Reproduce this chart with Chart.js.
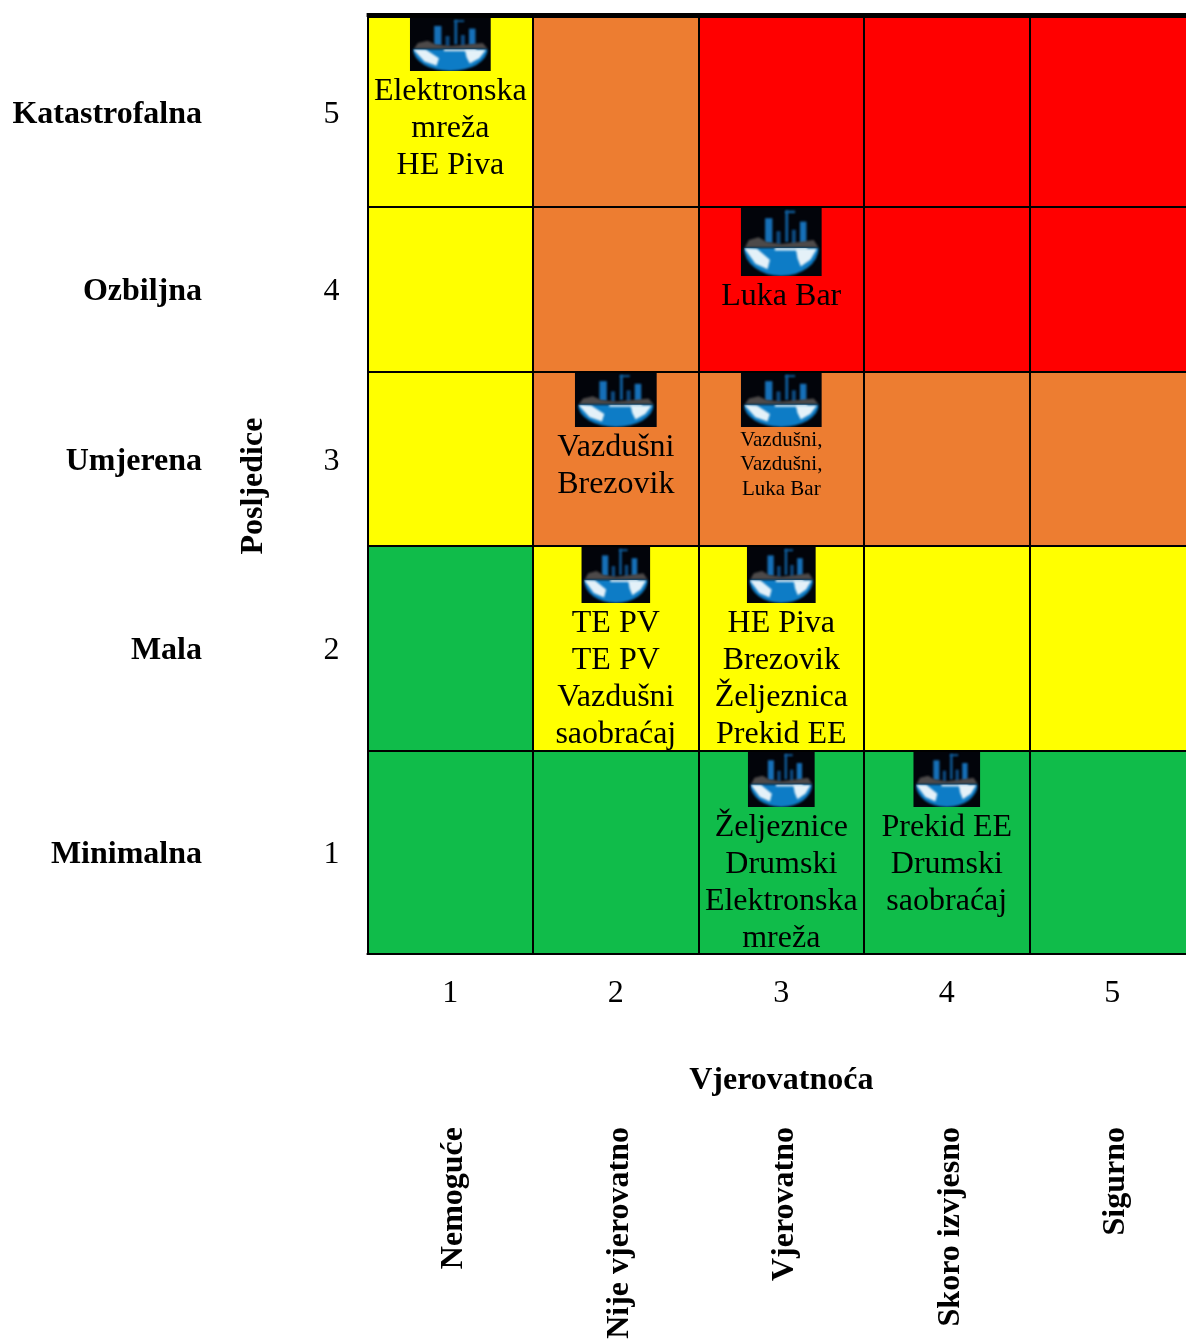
<!DOCTYPE html>
<html>
<head>
<meta charset="utf-8">
<style>
  html, body { margin: 0; padding: 0; background: #fff; overflow: hidden; }
  #wrap { width: 1186px; height: 1340px; overflow: hidden; }
  canvas { display: block; }
</style>
<script src="https://cdn.jsdelivr.net/npm/chart.js@4"></script>
</head>
<body>
<div id="wrap"><canvas id="riskMatrix" width="1195" height="1340"></canvas></div>
<script>
// bottom row first, so index 0 is consequence 1
const consequenceScores = ["1", "2", "3", "4", "5"];
const consequenceNames = ["Minimalna", "Mala", "Umjerena", "Ozbiljna", "Katastrofalna"];
const likelihoodScores = ["1", "2", "3", "4", "5"];
const likelihoodNames = ["Nemoguće", "Nije vjerovatno", "Vjerovatno", "Skoro izvjesno", "Sigurno"];

// 0 green, 1 yellow, 2 orange, 3 red
const riskRow1 = [0, 0, 0, 0, 0];
const riskRow2 = [0, 1, 1, 1, 1];
const riskRow3 = [1, 2, 2, 2, 2];
const riskRow4 = [1, 2, 3, 3, 3];
const riskRow5 = [1, 2, 3, 3, 3];
const riskRows = [riskRow1, riskRow2, riskRow3, riskRow4, riskRow5];

// [likelihood, consequence, lines]
const cellEntries = [
  [1, 5, ["Elektronska", "mreža", "HE Piva"]],
  [3, 4, ["Luka Bar"]],
  [2, 3, ["Vazdušni", "Brezovik"]],
  [3, 3, ["Vazdušni,", "Vazdušni,", "Luka Bar"]],
  [2, 2, ["TE PV", "TE PV", "Vazdušni", "saobraćaj"]],
  [3, 2, ["HE Piva", "Brezovik", "Željeznica", "Prekid EE"]],
  [3, 1, ["Željeznice", "Drumski", "Elektronska", "mreža"]],
  [4, 1, ["Prekid EE", "Drumski", "saobraćaj"]],
];

// layout, kept apart from the data above
const riskColors = ["#10bc4a", "#ffff00", "#ed7d31", "#ff0000"];
const bandHeights = [203, 205, 174, 165, 190];
const iconSizes = [[81, 53], [81, 68], [82, 54], [81, 54], [69, 56], [69, 56], [67, 55], [67, 55]];
const SERIF = '"Liberation Serif", serif';
const LABEL_DROP = 2.5; // row labels sit a little under the band middle

const bandTotal = bandHeights.reduce((a, b) => a + b, 0);
const bandMids = bandHeights.map((h, i) =>
  bandHeights.slice(0, i).reduce((a, b) => a + b, 0) + h / 2);

function drawIcon(ctx, cx, top, w, h) {
  const left = cx - w / 2;
  ctx.save();
  ctx.beginPath();
  ctx.rect(left, top, w, h);
  ctx.clip();
  ctx.fillStyle = "#02040a";
  ctx.fillRect(left, top, w, h);
  ctx.filter = "blur(0.9px)";
  const px = (f) => left + f * w;
  const py = (f) => top + f * h;

  // towers
  ctx.fillStyle = "#1670b8";
  [[0.3, 0.15, 0.09], [0.73, 0.2, 0.08]].forEach(([x, y, tw]) => {
    ctx.fillRect(px(x), py(y), tw * w, py(0.52) - py(y));
  });
  ctx.fillStyle = "#0f5f9f";
  ctx.fillRect(px(0.55), py(0.04), 0.035 * w, 0.46 * h);
  ctx.fillRect(px(0.55), py(0.04), 0.12 * w, 0.035 * h);
  ctx.fillStyle = "#0d4a80";
  ctx.fillRect(px(0.44), py(0.34), 0.05 * w, 0.2 * h);
  ctx.fillRect(px(0.63), py(0.32), 0.05 * w, 0.22 * h);

  // skyline
  ctx.fillStyle = "#4d4a4a";
  ctx.beginPath();
  ctx.moveTo(px(0.05), py(0.58));
  ctx.lineTo(px(0.1), py(0.47));
  ctx.lineTo(px(0.22), py(0.43));
  ctx.lineTo(px(0.32), py(0.5));
  ctx.lineTo(px(0.5), py(0.53));
  ctx.lineTo(px(0.72), py(0.5));
  ctx.lineTo(px(0.9), py(0.47));
  ctx.lineTo(px(0.96), py(0.58));
  ctx.closePath();
  ctx.fill();

  // globe
  const globePath = () => {
    ctx.beginPath();
    ctx.ellipse(px(0.5), py(0.59), 0.46 * w, 0.41 * h, 0, 0, Math.PI);
    ctx.closePath();
  };
  globePath();
  ctx.fillStyle = "#0d7cc6";
  ctx.fill();
  ctx.save();
  globePath();
  ctx.clip();
  ctx.fillStyle = "#e4f1f8";
  ctx.fillRect(px(0.42), py(0.585), 0.4 * w, 0.04 * h);
  ctx.beginPath();
  ctx.moveTo(px(0.04), py(0.59));
  ctx.lineTo(px(0.2), py(0.6));
  ctx.lineTo(px(0.36), py(0.76));
  ctx.lineTo(px(0.33), py(0.9));
  ctx.lineTo(px(0.18), py(0.82));
  ctx.closePath();
  ctx.fill();
  ctx.beginPath();
  ctx.moveTo(px(0.68), py(0.6));
  ctx.lineTo(px(0.94), py(0.6));
  ctx.lineTo(px(0.86), py(0.76));
  ctx.lineTo(px(0.74), py(0.86));
  ctx.lineTo(px(0.7), py(0.74));
  ctx.closePath();
  ctx.fill();
  ctx.restore();
  ctx.restore();
}

const matrixDecor = {
  id: "matrixDecor",
  afterDraw(chart) {
    const { ctx, chartArea: area, scales: { x, y } } = chart;
    ctx.save();

    // thick rule along the top of the matrix, thinner along the bottom
    ctx.fillStyle = "#000";
    ctx.fillRect(area.left - 1, area.top - 4, area.right - area.left + 1, 4);
    ctx.fillRect(area.left - 1, area.bottom - 1, area.right - area.left + 1, 2);

    // cell contents
    ctx.textAlign = "center";
    ctx.textBaseline = "middle";
    cellEntries.forEach(([col, row, lines], i) => {
      const cx = x.getPixelForValue(col - 1);
      const top = y.getPixelForValue(bandHeights.slice(0, row).reduce((a, b) => a + b, 0));
      const [w, h] = iconSizes[i];
      drawIcon(ctx, cx, top + 1, w, h);
      const small = lines[0] === "Vazdušni,";
      ctx.fillStyle = "#000";
      ctx.font = (small ? 21 : 32) + "px " + SERIF;
      const step = small ? 24.5 : 37;
      const first = top + h + (small ? 14 : 22);
      lines.forEach((t, n) => ctx.fillText(t, cx, first + n * step));
    });

    // consequence names and axis title
    ctx.font = "bold 32px " + SERIF;
    ctx.textAlign = "right";
    consequenceNames.forEach((name, i) => {
      ctx.fillText(name, 202, y.getPixelForValue(bandMids[i]) + LABEL_DROP);
    });
    ctx.save();
    ctx.translate(254, 486);
    ctx.rotate(-Math.PI / 2);
    ctx.textAlign = "center";
    ctx.fillText("Posljedice", 0, 0);
    ctx.restore();

    // likelihood title and rotated names
    ctx.textAlign = "center";
    ctx.fillText("Vjerovatnoća", x.getPixelForValue(2), 1081);
    likelihoodNames.forEach((name, i) => {
      ctx.save();
      ctx.translate(x.getPixelForValue(i) + 3.5, 1127);
      ctx.rotate(-Math.PI / 2);
      ctx.textAlign = "right";
      ctx.fillText(name, 0, 0);
      ctx.restore();
    });
    ctx.restore();
  },
};

new Chart(document.getElementById("riskMatrix"), {
  type: "bar",
  plugins: [matrixDecor],
  data: {
    labels: likelihoodScores,
    datasets: riskRows.map((row, i) => ({
      label: consequenceNames[i],
      data: row.map(() => bandHeights[i]),
      backgroundColor: row.map((level) => riskColors[level]),
      borderColor: "#000",
      borderWidth: { top: 1, bottom: 1, left: 0, right: 0 },
      borderSkipped: false,
      inflateAmount: 0,
      barPercentage: 1,
      categoryPercentage: 1,
    })),
  },
  options: {
    responsive: false,
    animation: false,
    devicePixelRatio: 1,
    layout: { padding: { top: 17, left: 0, right: 0, bottom: 0 } },
    plugins: {
      legend: { display: false },
      tooltip: { enabled: false },
    },
    scales: {
      x: {
        stacked: true,
        grid: { color: "#000", lineWidth: 2, offset: true, drawTicks: false, z: 1 },
        border: { display: false },
        ticks: {
          color: "#000",
          padding: 20,
          maxRotation: 0,
          font: { family: SERIF, size: 32 },
        },
        afterFit(scale) { scale.height = 386; },
      },
      y: {
        stacked: true,
        min: 0,
        max: bandTotal,
        grid: { display: false, drawTicks: false },
        border: { display: false },
        afterBuildTicks(scale) {
          scale.ticks = bandMids.map((v) => ({ value: v - LABEL_DROP }));
        },
        ticks: {
          color: "#000",
          padding: 28,
          autoSkip: false,
          font: { family: SERIF, size: 32 },
          callback: (value, i) => consequenceScores[i],
        },
        afterFit(scale) {
          scale.width = 367.6;
          // tick padding would otherwise push the plot area down
          scale.paddingTop = 0;
          scale.paddingBottom = 0;
        },
      },
    },
  },
});
</script>
</body>
</html>
